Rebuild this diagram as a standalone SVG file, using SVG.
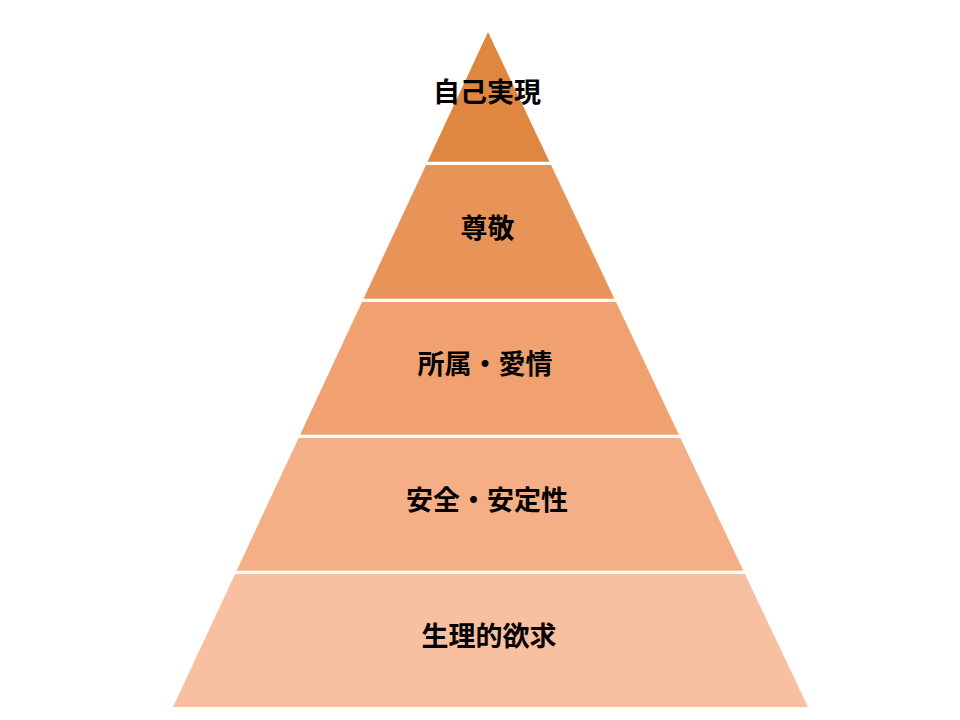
<svg xmlns="http://www.w3.org/2000/svg" width="960" height="720" viewBox="0 0 960 720">
<style>
.lbl{font-family:"Noto Sans CJK JP","Noto Sans CJK SC",sans-serif;font-size:27px;font-weight:bold;fill:#000;text-anchor:middle}
</style>
<rect x="0" y="0" width="960" height="720" fill="#ffffff"/>
<g id="layer1">
<polygon points="488,32 549.5,161.7 427.5,161.7" fill="#DF8641"/>
<text class="lbl" x="487" y="101.5">自己実現</text>
</g>
<g id="layer2">
<polygon points="426,164.9 551,164.9 614.4,298.7 363.5,298.7" fill="#E89358"/>
<text class="lbl" x="487.5" y="237.5">尊敬</text>
</g>
<g id="layer3">
<polygon points="362,301.9 616,301.9 678.9,434.7 300.1,434.7" fill="#F0A16F"/>
<text class="lbl" x="485" y="374">所属・愛情</text>
</g>
<g id="layer4">
<polygon points="298.6,437.9 680.4,437.9 743.4,570.7 236.6,570.7" fill="#F4AF86"/>
<text class="lbl" x="487" y="509.5">安全・安定性</text>
</g>
<g id="layer5">
<polygon points="235.1,573.9 744.9,573.9 808,707 173,707" fill="#F8BFA0"/>
<text class="lbl" x="489" y="645.5">生理的欲求</text>
</g>
<g id="connectors"></g>
</svg>
